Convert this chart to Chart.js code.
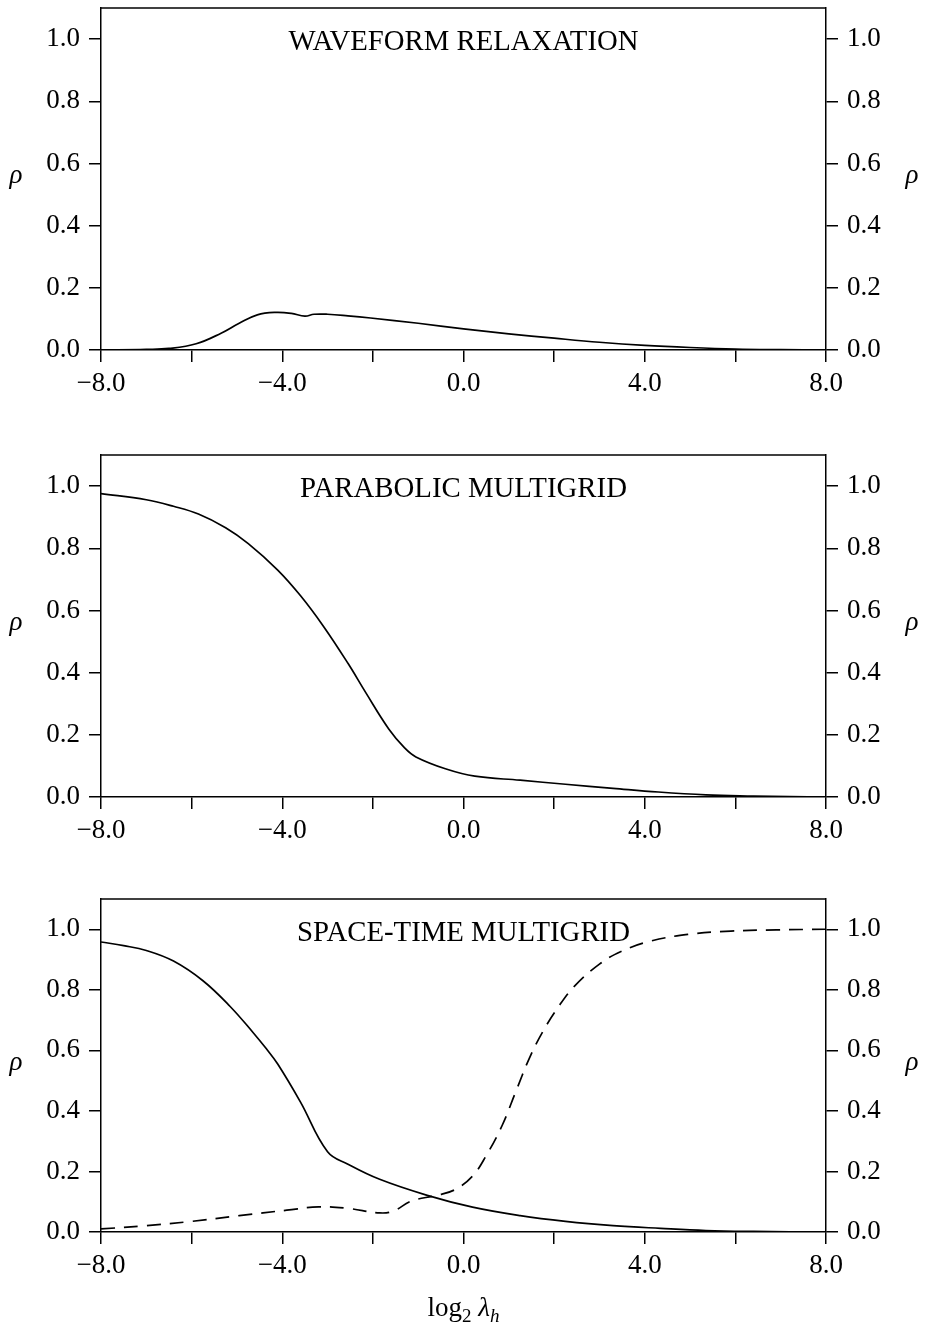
<!DOCTYPE html>
<html>
<head>
<meta charset="utf-8">
<script src="https://cdn.jsdelivr.net/npm/chart.js@4/dist/chart.umd.min.js"></script>
<style>
  html, body { margin: 0; padding: 0; background: #fff; }
  #page { position: relative; width: 926px; height: 1333px; }
  canvas { position: absolute; left: 0; }
</style>
</head>
<body>
<div id="page">
  <canvas id="c1" width="926" height="430" style="top:0px"></canvas>
  <canvas id="c2" width="926" height="430" style="top:447px"></canvas>
  <canvas id="c3" width="926" height="442" style="top:891px"></canvas>
</div>
<script>
const xTicks = [-8, -6, -4, -2, 0, 2, 4, 6, 8];
const yTicks = [0, 0.2, 0.4, 0.6, 0.8, 1.0];

// waveform relaxation
const wrX = [-8, -7, -6.5, -5.9, -5.35, -4.95, -4.55, -4.15, -3.8, -3.5, -3.3, -3.0, -2.55, -2.05, -1.0, 0.0, 1.0, 2.0, 3.0, 4.0, 5.0, 6.0, 7.0, 8.0];
const wrRho = [0, 0.002, 0.005, 0.02, 0.054, 0.086, 0.113, 0.121, 0.118, 0.109, 0.115, 0.115, 0.110, 0.103, 0.086, 0.068, 0.052, 0.038, 0.025, 0.015, 0.008, 0.003, 0.001, 0];

// parabolic multigrid
const pmX = [-8, -7, -6.4, -5.85, -5.25, -4.75, -4.1, -3.6, -3.1, -2.55, -2.15, -1.65, -1.3, -1.05, -0.4, 0.25, 1.25, 2.25, 3.3, 4.3, 5.35, 6.4, 7.2, 8];
const pmRho = [0.976, 0.956, 0.935, 0.91, 0.866, 0.815, 0.73, 0.648, 0.551, 0.43, 0.334, 0.219, 0.158, 0.129, 0.091, 0.067, 0.054, 0.041, 0.028, 0.016, 0.007, 0.003, 0.001, 0];

// space-time multigrid, solid and dashed
const stX = [-8, -7.5, -7, -6.4, -5.75, -5.15, -4.65, -4.35, -4.1, -3.6, -3.0, -2.55, -1.85, -0.8, 0.2, 1.25, 2.25, 3.3, 4.35, 5.35, 6.4, 8];
const stRho = [0.958, 0.946, 0.93, 0.895, 0.83, 0.745, 0.66, 0.605, 0.555, 0.43, 0.265, 0.224, 0.174, 0.121, 0.082, 0.054, 0.035, 0.021, 0.012, 0.005, 0.002, 0];
const stDashX = [-8, -7, -6, -4.95, -3.9, -3.2, -2.55, -1.85, -1.55, -1.15, -0.6, -0.2, 0.2, 0.5, 0.85, 1.15, 1.45, 1.75, 2.1, 2.45, 3.0, 3.5, 4.1, 4.95, 5.9, 6.9, 8];
const stDashRho = [0.01, 0.021, 0.035, 0.054, 0.072, 0.083, 0.078, 0.063, 0.069, 0.102, 0.121, 0.139, 0.185, 0.252, 0.351, 0.462, 0.573, 0.662, 0.745, 0.812, 0.885, 0.928, 0.96, 0.983, 0.994, 0.998, 1.0];

const SERIF = '"Liberation Serif", "DejaVu Serif", serif';

const toPoints = (xs, ys) => xs.map((x, i) => ({ x: x, y: ys[i] }));

const lineSet = (xs, ys, dash) => ({
    data: toPoints(xs, ys),
    borderColor: '#000',
    borderWidth: 1.7,
    borderDash: dash || [],
    pointRadius: 0,
    fill: false,
    tension: 0.4
});

const fmtX = (v) => (v < 0 ? '\u2212' : '') + Math.abs(v).toFixed(1);

const noPad = (s) => {
    s.paddingTop = 0;
    s.paddingBottom = 0;
    s.paddingLeft = 0;
    s.paddingRight = 0;
};

const yAxis = (pos, w) => ({
    type: 'linear',
    position: pos,
    min: 0,
    max: 1.1,
    afterBuildTicks: (s) => { s.ticks = yTicks.map(v => ({ value: v })); },
    afterFit: (s) => { s.width = w; noPad(s); },
    ticks: {
        color: '#000',
        padding: 9,
        font: { family: SERIF, size: 27 },
        callback: (v) => Number(v).toFixed(1)
    },
    grid: { drawOnChartArea: false, drawTicks: true, tickLength: 12, color: '#000', lineWidth: 1.5 },
    border: { display: true, color: '#000', width: 1.5 }
});

// frame top, panel title and the rho labels
const panelDeco = {
    id: 'panelDeco',
    afterDraw(chart, args, opts) {
        const { ctx, chartArea } = chart;
        const yS = chart.scales.y;
        ctx.save();
        ctx.strokeStyle = '#000';
        ctx.lineWidth = 1.5;
        ctx.beginPath();
        ctx.moveTo(chartArea.left, chartArea.top);
        ctx.lineTo(chartArea.right, chartArea.top);
        ctx.stroke();

        ctx.fillStyle = '#000';
        ctx.textAlign = 'center';
        ctx.textBaseline = 'alphabetic';
        ctx.font = '30px ' + SERIF;
        const cx = (chartArea.left + chartArea.right) / 2;
        ctx.fillText(opts.title, cx, chartArea.top + 42, opts.titleWidth);

        ctx.font = 'italic 27px ' + SERIF;
        ctx.textBaseline = 'middle';
        const ry = yS.getPixelForValue(0.56);
        ctx.fillText('\u03c1', 16, ry);
        ctx.fillText('\u03c1', 912, ry);

        if (opts.xlabel) {
            const base = opts.xlabelY;
            const big = '27px ' + SERIF, small = '19px ' + SERIF;
            const ibig = 'italic 27px ' + SERIF, ismall = 'italic 19px ' + SERIF;
            const parts = [
                { t: 'log', f: big, dy: 0 },
                { t: '2', f: small, dy: 6 },
                { t: ' ', f: big, dy: 0 },
                { t: '\u03bb', f: ibig, dy: 0 },
                { t: 'h', f: ismall, dy: 6 }
            ];
            let total = 0;
            parts.forEach(p => { ctx.font = p.f; p.w = ctx.measureText(p.t).width; total += p.w; });
            let x = cx - total / 2;
            ctx.textAlign = 'left';
            ctx.textBaseline = 'alphabetic';
            parts.forEach(p => { ctx.font = p.f; ctx.fillText(p.t, x, base + p.dy); x += p.w; });
        }
        ctx.restore();
    }
};

const makePanel = (id, datasets, deco, xHeight) => {
    new Chart(document.getElementById(id).getContext('2d'), {
        type: 'line',
        data: { datasets: datasets },
        plugins: [panelDeco],
        options: {
            responsive: false,
            animation: false,
            layout: { padding: { top: 8, left: 0, right: 0, bottom: 0 } },
            plugins: {
                legend: { display: false },
                tooltip: { enabled: false },
                panelDeco: deco
            },
            scales: {
                x: {
                    type: 'linear',
                    min: -8,
                    max: 8,
                    afterBuildTicks: (s) => { s.ticks = xTicks.map(v => ({ value: v })); },
                    afterFit: (s) => { s.height = xHeight; noPad(s); },
                    ticks: {
                        color: '#000',
                        padding: 6,
                        autoSkip: false,
                        maxRotation: 0,
                        font: { family: SERIF, size: 27 },
                        callback: (v) => (v % 4 === 0 ? fmtX(v) : '')
                    },
                    grid: { drawOnChartArea: false, drawTicks: true, tickLength: 12, color: '#000', lineWidth: 1.5 },
                    border: { display: true, color: '#000', width: 1.5 }
                },
                y: yAxis('left', 101),
                y2: yAxis('right', 100)
            }
        }
    });
};

makePanel('c1', [lineSet(wrX, wrRho)],
    { title: 'WAVEFORM RELAXATION', titleWidth: 350 }, 80);
makePanel('c2', [lineSet(pmX, pmRho)],
    { title: 'PARABOLIC MULTIGRID', titleWidth: 327 }, 80);
makePanel('c3', [lineSet(stX, stRho), lineSet(stDashX, stDashRho, [14, 9])],
    { title: 'SPACE-TIME MULTIGRID', titleWidth: 333, xlabel: true, xlabelY: 425 }, 101);
</script>
</body>
</html>
